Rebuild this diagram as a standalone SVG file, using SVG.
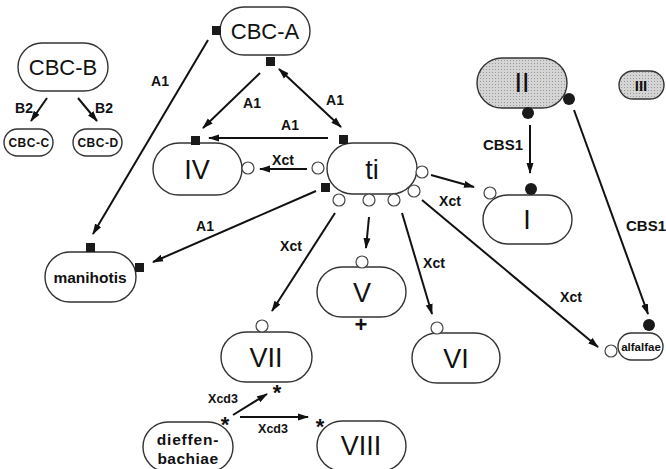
<svg xmlns="http://www.w3.org/2000/svg" width="666" height="469" viewBox="0 0 666 469">
<defs>
<marker id="ah" markerWidth="11" markerHeight="8" refX="10" refY="4" orient="auto" markerUnits="userSpaceOnUse"><path d="M0,0.5 L11,4 L0,7.5 z" fill="#111"/></marker>
<marker id="ahs" markerWidth="11" markerHeight="8" refX="1" refY="4" orient="auto" markerUnits="userSpaceOnUse"><path d="M11,0.5 L0,4 L11,7.5 z" fill="#111"/></marker>
<pattern id="stip" width="3" height="3" patternUnits="userSpaceOnUse"><rect width="3" height="3" fill="#d4d4d4"/><rect width="1" height="1" fill="#999"/></pattern>
</defs>
<style>
.n{fill:#fff;stroke:#333;stroke-width:1.4}
.g{fill:url(#stip);stroke:#333;stroke-width:1.4}
.t{font-family:"Liberation Sans",Arial,sans-serif;fill:#111;text-anchor:middle}
.big{font-size:27px}
.med{font-size:22px}
.sm{font-size:12px;font-weight:bold;letter-spacing:0.5px}
.lb{font-family:"Liberation Sans",Arial,sans-serif;font-size:14px;font-weight:bold;fill:#111;text-anchor:middle}
.xc{font-size:12.5px}
.c{stroke:#111;stroke-width:2;fill:none;marker-end:url(#ah)}
.oc{fill:#fff;stroke:#444;stroke-width:1.2}
.fc{fill:#1a1a1a}
.sq{fill:#1a1a1a}
.st{font-family:"Liberation Sans",Arial,sans-serif;font-size:22px;font-weight:bold;fill:#111;text-anchor:middle}
</style>
<rect width="666" height="469" fill="#fff"/>
<g id="connectors">
<line class="c" x1="47" y1="98" x2="31" y2="121"/>
<line class="c" x1="78" y1="98" x2="97" y2="121"/>
<line class="c" x1="260" y1="73" x2="203" y2="128"/>
<line class="c" x1="341" y1="127" x2="279" y2="69" style="marker-start:url(#ahs)"/>
<line class="c" x1="328" y1="138" x2="209" y2="138"/>
<line class="c" x1="307" y1="169" x2="260" y2="169"/>
<line class="c" x1="208" y1="40" x2="93" y2="234"/>
<line class="c" x1="316" y1="191" x2="153" y2="262"/>
<line class="c" x1="335" y1="213" x2="272" y2="311"/>
<line class="c" x1="369" y1="217" x2="366" y2="248"/>
<line class="c" x1="402" y1="213" x2="432" y2="314"/>
<line class="c" x1="422" y1="200" x2="598" y2="347"/>
<line class="c" x1="431" y1="175" x2="474" y2="187"/>
<line class="c" x1="530" y1="125" x2="530" y2="173"/>
<line class="c" x1="574" y1="110" x2="648" y2="314"/>
<line class="c" x1="233" y1="415" x2="267" y2="394"/>
<line class="c" x1="240" y1="417" x2="308" y2="417"/>
<text class="lb" x="24" y="113">B2</text>
<text class="lb" x="104" y="113">B2</text>
<text class="lb" x="160" y="86">A1</text>
<text class="lb" x="252" y="108">A1</text>
<text class="lb" x="335" y="105">A1</text>
<text class="lb" x="290" y="130">A1</text>
<text class="lb" x="205" y="231">A1</text>
<text class="lb" x="283" y="165">Xct</text>
<text class="lb" x="291" y="251">Xct</text>
<text class="lb" x="450" y="206">Xct</text>
<text class="lb" x="434" y="268">Xct</text>
<text class="lb" x="571" y="302">Xct</text>
<text class="lb" x="503" y="150" style="font-size:15px">CBS1</text>
<text class="lb" x="646" y="231" style="font-size:15px">CBS1</text>
<text class="lb xc" x="223" y="403">Xcd3</text>
<text class="lb xc" x="273" y="433">Xcd3</text>
</g>
<g id="CBC-B"><rect class="n" x="18" y="43" width="90" height="48" rx="24"/><text class="t med" x="63" y="75">CBC-B</text></g>
<g id="CBC-C"><rect class="n" x="4" y="129" width="49" height="27" rx="13.5"/><text class="t sm" x="29" y="147">CBC-C</text></g>
<g id="CBC-D"><rect class="n" x="73" y="129" width="49" height="27" rx="13.5"/><text class="t sm" x="98" y="147">CBC-D</text></g>
<g id="CBC-A"><rect class="n" x="220" y="7" width="90" height="48" rx="24"/><text class="t med" x="265" y="39">CBC-A</text>
<rect class="sq" x="212" y="26" width="9" height="9"/><rect class="sq" x="266" y="57" width="9" height="9"/></g>
<g id="IV"><rect class="n" x="153" y="143" width="89" height="52" rx="26"/><text class="t big" x="197" y="179">IV</text>
<rect class="sq" x="191" y="136" width="9" height="9"/><circle class="oc" cx="248" cy="168" r="6"/></g>
<g id="ti"><rect class="n" x="327" y="143" width="90" height="51" rx="25.5"/><text class="t big" x="372" y="179">ti</text>
<rect class="sq" x="339" y="135" width="9" height="9"/><rect class="sq" x="321" y="183" width="9" height="9"/>
<circle class="oc" cx="318" cy="168" r="6"/><circle class="oc" cx="422" cy="172" r="6"/>
<circle class="oc" cx="339" cy="200" r="6"/><circle class="oc" cx="369" cy="200" r="6"/><circle class="oc" cx="394" cy="200" r="6"/><circle class="oc" cx="414" cy="191" r="6"/></g>
<g id="manihotis"><rect class="n" x="45" y="252" width="91" height="50" rx="25"/><text class="t" x="90" y="283" style="font-size:15.5px;font-weight:bold">manihotis</text>
<rect class="sq" x="86" y="243" width="9" height="9"/><rect class="sq" x="135" y="263" width="9" height="9"/></g>
<g id="I"><rect class="n" x="483" y="195" width="89" height="49" rx="24.5"/><text class="t big" x="527" y="229">I</text>
<circle class="oc" cx="490" cy="193" r="6"/><circle class="fc" cx="531" cy="189" r="6"/></g>
<g id="II"><rect class="g" x="477" y="58" width="90" height="50" rx="25"/><text class="t big" x="522" y="92">II</text>
<circle class="fc" cx="528" cy="113" r="6"/><circle class="fc" cx="569" cy="99" r="6"/></g>
<g id="III"><rect class="g" x="619" y="71" width="45" height="28" rx="14"/><text class="t" x="641" y="91" style="font-size:15px;font-weight:bold">III</text></g>
<g id="V"><rect class="n" x="317" y="267" width="89" height="50" rx="25"/><text class="t big" x="362" y="302">V</text>
<circle class="oc" cx="362" cy="262" r="6"/><text class="st" x="361" y="332">+</text></g>
<g id="VI"><rect class="n" x="412" y="333" width="88" height="50" rx="25"/><text class="t big" x="456" y="368">VI</text>
<circle class="oc" cx="437" cy="328" r="6"/></g>
<g id="VII"><rect class="n" x="221" y="332" width="91" height="50" rx="25"/><text class="t big" x="266" y="367">VII</text>
<circle class="oc" cx="262" cy="326" r="6"/><text class="st" x="277" y="400">*</text></g>
<g id="alfalfae"><rect class="n" x="618" y="333" width="45" height="27" rx="13.5"/><text class="t" x="641" y="351" style="font-size:11.5px;font-weight:bold">alfalfae</text>
<circle class="fc" cx="649" cy="325" r="6"/><circle class="oc" cx="611" cy="351" r="6"/></g>
<g id="dieffenbachiae"><rect class="n" x="143" y="422" width="90" height="50" rx="25"/><text class="t" x="188" y="445" style="font-size:15.5px;font-weight:bold;letter-spacing:0.8px">dieffen-</text><text class="t" x="188" y="464" style="font-size:15.5px;font-weight:bold;letter-spacing:0.5px">bachiae</text>
<text class="st" x="225" y="432">*</text></g>
<g id="VIII"><rect class="n" x="317" y="421" width="89" height="50" rx="25"/><text class="t big" x="361" y="455">VIII</text>
<text class="st" x="320" y="434">*</text></g>
</svg>
